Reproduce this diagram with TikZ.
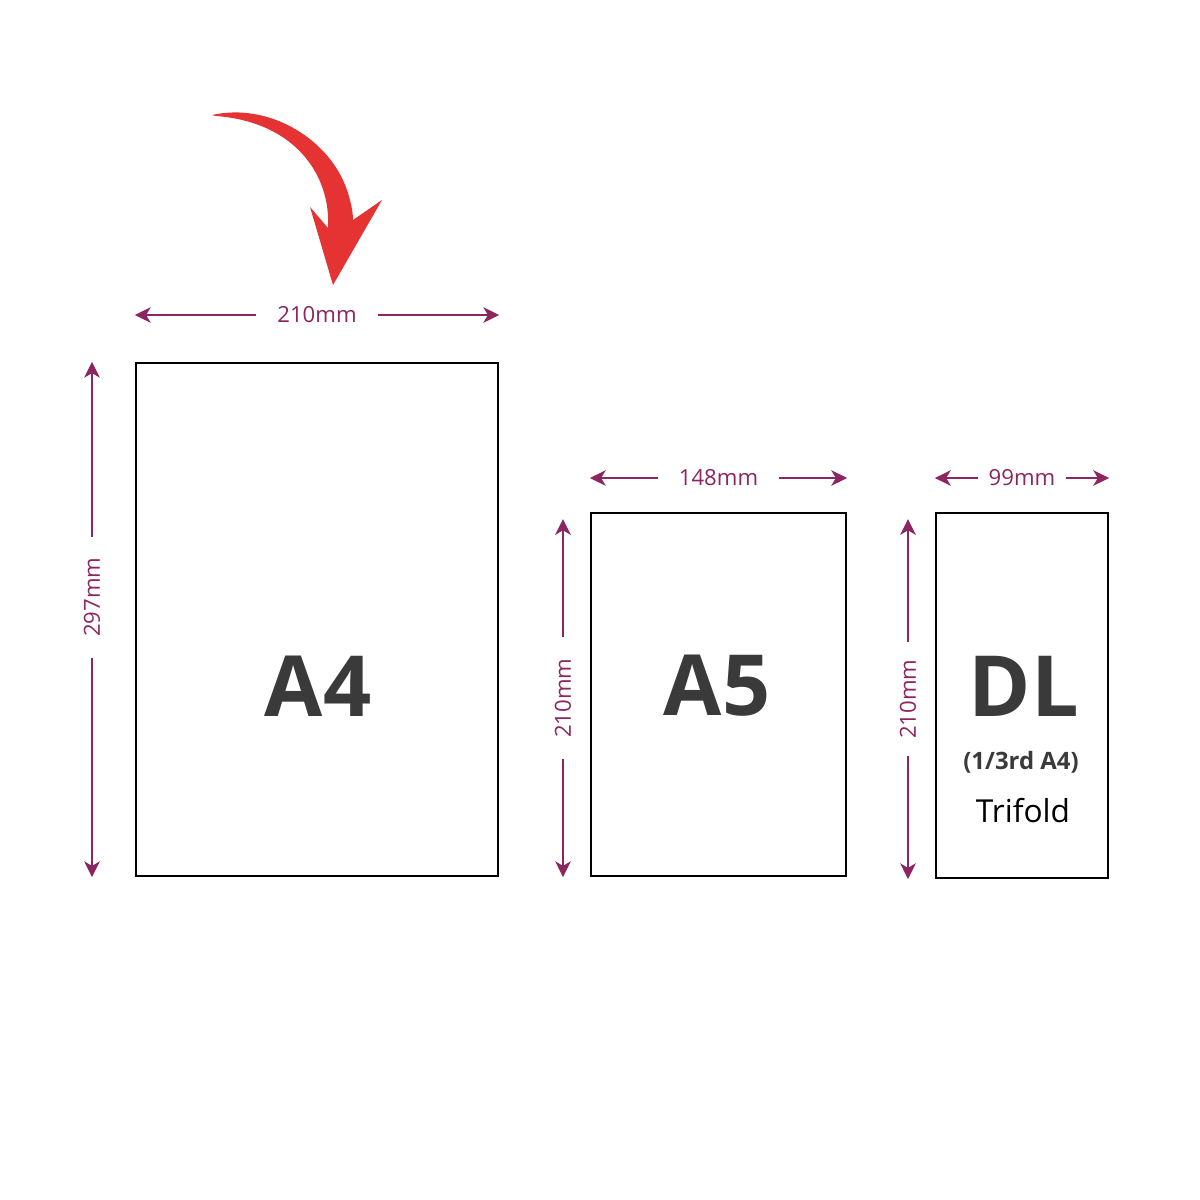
\documentclass[tikz,border=0pt]{standalone}
\usepackage{fontspec}
\setmainfont{Open Sans}
\usetikzlibrary{arrows.meta}
\definecolor{dimpurple}{RGB}{140,38,96}
\definecolor{arrowred}{RGB}{229,51,51}
\definecolor{labelgray}{RGB}{58,58,58}
\tikzset{
  sheet/.style={draw=black,line width=0.6pt,inner sep=0pt},
  dim/.style={dimpurple,line width=0.6pt,
    {Stealth[length=4.5pt,width=4.4pt,inset=1.3pt]}-{Stealth[length=4.5pt,width=4.4pt,inset=1.3pt]}},
  dimtext/.style={fill=white,text=dimpurple,font=\fontsize{6.3}{8}\selectfont,inner ysep=1pt},
  sizelabel/.style={text=labelgray,font=\fontsize{24}{28}\selectfont\bfseries}
}
\begin{document}
\begin{tikzpicture}[x=0.01cm,y=-0.01cm]
\useasboundingbox (0,0) rectangle (1200,1200);
\fill[white] (0,0) rectangle (1200,1200);

% the three sheets
\node[sheet,minimum width=3.62cm,minimum height=5.13cm] (a4) at (317,619.5) {};
\node[sheet,minimum width=2.55cm,minimum height=3.63cm] (a5) at (718.5,694.5) {};
\node[sheet,minimum width=1.72cm,minimum height=3.65cm] (dl) at (1022,695.5) {};

% widths
\draw[dim] (a4.north west |- 0,315) -- node[dimtext,inner xsep=6pt] (wa4) {210mm} (a4.north east |- 0,315);
\draw[dim] (a5.north west |- 0,478) -- node[dimtext,inner xsep=6pt] (wa5) {148mm} (a5.north east |- 0,478);
\draw[dim] (dl.north west |- 0,478) -- node[dimtext,inner xsep=3pt] (wdl) {99mm} (dl.north east |- 0,478);

% heights
\draw[dim] (92,0 |- a4.north) -- node[dimtext,rotate=90,inner xsep=6pt,pos=0.457] (ha4) {297mm} (92,0 |- a4.south);
\draw[dim] (563,519) -- node[dimtext,rotate=90,inner xsep=6pt] (ha5) {210mm} (563,0 |- a5.south);
\draw[dim] (908,519) -- node[dimtext,rotate=90,inner xsep=5pt] (hdl) {210mm} (908,0 |- dl.south);

% labels
\node[sizelabel] (la4) at (318,686) {A4};
\node[sizelabel] (la5) at (717,686) {A5};
\node[sizelabel] (ldl) at (1024,686) {DL};
\node[text=labelgray,font=\fontsize{6.8}{8}\selectfont\bfseries] (third) at (1021,762) {(1/3rd A4)};
\node[text=black,font=\fontsize{9}{11}\selectfont] (trifold) at (1023,811) {Trifold};

% red pointer
\fill[arrowred] (212,115) .. controls (270,102) and (330,140) .. (347,190)
  .. controls (351,202) and (353,212) .. (353,220) -- (382,200) -- (333,285)
  -- (310,207) -- (328,228) .. controls (331,175) and (295,122) .. (216,116) -- cycle;

\end{tikzpicture}
\end{document}
